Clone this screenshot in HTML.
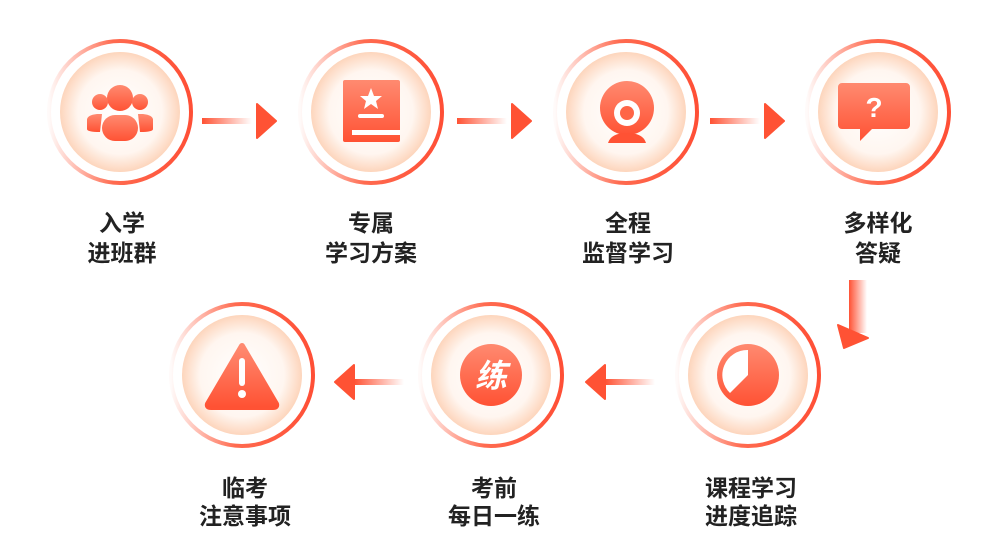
<!DOCTYPE html>
<html><head><meta charset="utf-8"><style>
html,body{margin:0;padding:0;background:#fff;}
svg{display:block}
text{font-family:"Liberation Sans","Noto Sans CJK SC",sans-serif;font-weight:bold;font-size:23px;fill:#222;text-anchor:middle}
</style></head><body>
<svg width="990" height="560" viewBox="0 0 990 560" xmlns="http://www.w3.org/2000/svg">
<defs>
<linearGradient id="ring" x1="0" y1="0" x2="1" y2="0">
<stop offset="0" stop-color="#ff5a3c" stop-opacity="0.03"/>
<stop offset="0.45" stop-color="#ff5a3c" stop-opacity="0.9"/>
<stop offset="1" stop-color="#ff4f36"/>
</linearGradient>
<radialGradient id="fill" cx="0.5" cy="0.5" r="0.5">
<stop offset="0" stop-color="#ffffff"/>
<stop offset="0.7" stop-color="#fff6f0"/>
<stop offset="1" stop-color="#fdd5bc"/>
</radialGradient>
<linearGradient id="ico" x1="0" y1="0" x2="0" y2="1">
<stop offset="0" stop-color="#ff8a70"/>
<stop offset="1" stop-color="#ff5234"/>
</linearGradient>
<linearGradient id="lnR" x1="0" y1="0" x2="1" y2="0">
<stop offset="0" stop-color="#ff5234"/><stop offset="1" stop-color="#ff5234" stop-opacity="0"/>
</linearGradient>
<linearGradient id="lnL" x1="1" y1="0" x2="0" y2="0">
<stop offset="0" stop-color="#ff5234" stop-opacity="0"/><stop offset="1" stop-color="#ff5234"/>
</linearGradient>
<linearGradient id="lnD" x1="0" y1="0" x2="1" y2="0">
<stop offset="0" stop-color="#ff5234"/><stop offset="1" stop-color="#ff5234" stop-opacity="0"/>
</linearGradient>
<g id="circ">
<circle r="71" fill="none" stroke="url(#ring)" stroke-width="4"/>
<circle r="60" fill="url(#fill)"/>
</g>
</defs>

<use href="#circ" x="120" y="112"/>
<use href="#circ" x="371" y="112"/>
<use href="#circ" x="626" y="112"/>
<use href="#circ" x="878" y="112"/>
<use href="#circ" x="748" y="375"/>
<use href="#circ" x="491" y="375"/>
<use href="#circ" x="242" y="375"/>

<g fill="url(#ico)">
<circle cx="120" cy="98" r="13"/>
<circle cx="100" cy="102" r="8"/>
<circle cx="140" cy="102" r="8"/>
<rect x="102" y="115" width="36" height="26" rx="13"/>
<path d="M87 120 q0-5 10-6 l5 0 l-2 18 q-13 0-13-3z"/>
<path d="M153 120 q0-5 -10-6 l-5 0 l2 18 q13 0 13-3z"/>
</g>
<g>
<rect x="343" y="80" width="57" height="62" rx="2" fill="url(#ico)"/>
<rect x="352" y="130" width="48" height="5" fill="#fff"/>
<rect x="358" y="114" width="26" height="4" rx="2" fill="#fff"/>
<polygon points="371,88 374,96 382,96 376,101 378,109 371,104 364,109 366,101 360,96 368,96" fill="#fff"/>
</g>
<g>
<circle cx="627" cy="108" r="27" fill="url(#ico)"/>
<circle cx="627" cy="113" r="13" fill="#fff"/>
<circle cx="627" cy="113" r="7" fill="#ff6547"/>
<path d="M608 143 q3-10 19-10 q16 0 19 10z" fill="#ff5234"/>
</g>
<g>
<path d="M842 83 h64 a4 4 0 0 1 4 4 v38 a4 4 0 0 1 -4 4 h-34 l-12 12 v-12 h-18 a4 4 0 0 1 -4 -4 v-38 a4 4 0 0 1 4 -4z" fill="url(#ico)"/>
<text x="874" y="117" style="fill:#fff;font-size:28px">?</text>
</g>
<g>
<circle cx="748" cy="375" r="31" fill="url(#ico)"/>
<path d="M748 350 A25 25 0 0 0 730 393 L748 375Z" fill="#fff"/>
</g>
<g>
<circle cx="491" cy="375" r="31" fill="url(#ico)"/>
<text x="491" y="387" style="fill:#fff;font-size:32px;font-style:italic">练</text>
</g>
<g>
<path d="M242 346 L276 404 Q277 407 273 407 L211 407 Q207 407 208 404 Z" fill="url(#ico)" stroke="url(#ico)" stroke-width="6" stroke-linejoin="round"/>
<rect x="239" y="358" width="6" height="28" rx="3" fill="#fff"/>
<circle cx="242" cy="394" r="4" fill="#fff"/>
</g>

<rect x="202" y="118" width="50" height="6" fill="url(#lnR)"/>
<path d="M257 104 L276 121 L257 138Z" fill="#ff5234" stroke="#ff5234" stroke-width="2" stroke-linejoin="round"/>
<rect x="457" y="118" width="50" height="6" fill="url(#lnR)"/>
<path d="M512 104 L531 121 L512 138Z" fill="#ff5234" stroke="#ff5234" stroke-width="2" stroke-linejoin="round"/>
<rect x="710" y="118" width="50" height="6" fill="url(#lnR)"/>
<path d="M765 104 L784 121 L765 138Z" fill="#ff5234" stroke="#ff5234" stroke-width="2" stroke-linejoin="round"/>
<rect x="849" y="280" width="18" height="53" fill="url(#lnD)"/>
<path d="M838 325 L868 338 L844 348Z" fill="#ff5234" stroke="#ff5234" stroke-width="2" stroke-linejoin="round"/>
<path d="M354 365 L335 382 L354 399Z" fill="#ff5234" stroke="#ff5234" stroke-width="2" stroke-linejoin="round"/>
<rect x="354" y="379" width="50" height="6" fill="url(#lnL)"/>
<path d="M605 365 L586 382 L605 399Z" fill="#ff5234" stroke="#ff5234" stroke-width="2" stroke-linejoin="round"/>
<rect x="605" y="379" width="50" height="6" fill="url(#lnL)"/>

<text x="122" y="231">入学</text><text x="122" y="261">进班群</text>
<text x="371" y="231">专属</text><text x="371" y="261">学习方案</text>
<text x="628" y="231">全程</text><text x="628" y="261">监督学习</text>
<text x="878" y="231">多样化</text><text x="878" y="261">答疑</text>
<text x="751" y="496">课程学习</text><text x="751" y="524">进度追踪</text>
<text x="494" y="496">考前</text><text x="494" y="524">每日一练</text>
<text x="245" y="496">临考</text><text x="245" y="524">注意事项</text>
</svg>
</body></html>
